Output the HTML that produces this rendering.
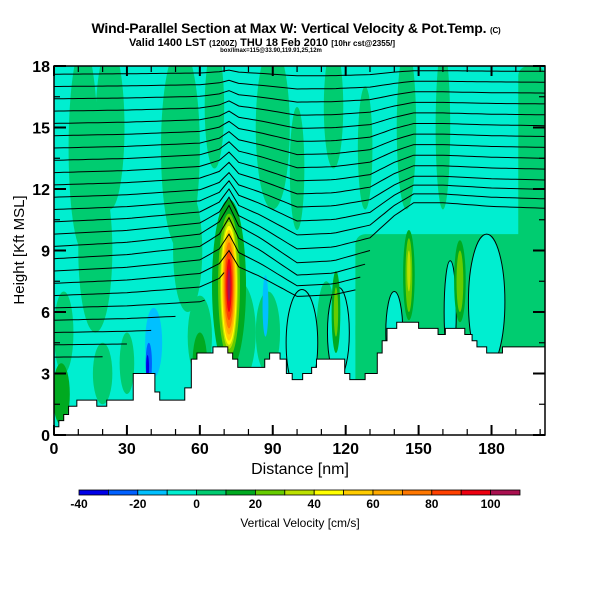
<!DOCTYPE html>
<html><head><meta charset="utf-8"><style>
body{margin:0;background:#fff;}
svg text{font-family:"Liberation Sans",Arial,sans-serif;}
</style></head><body>
<svg id="chart" width="600" height="600" viewBox="0 0 600 600" xmlns="http://www.w3.org/2000/svg">
<rect width="600" height="600" fill="#fff"/>
<text x="296" y="33" text-anchor="middle" font-size="14" font-weight="bold" letter-spacing="-0.2">Wind-Parallel Section at Max W: Vertical Velocity &amp; Pot.Temp. <tspan font-size="8">(C)</tspan></text>
<text x="262" y="46" text-anchor="middle" font-size="11" font-weight="bold">Valid 1400 LST <tspan font-size="8">(1200Z)</tspan> THU 18 Feb 2010 <tspan font-size="8">[10hr cst@2355/]</tspan></text>
<text x="271" y="52" text-anchor="middle" font-size="6" font-weight="bold">box/lmax=115@33.90,119.91,25,12m</text>
<defs><clipPath id="plotclip"><rect x="54" y="66" width="491" height="369"/></clipPath></defs>
<g id="plot" clip-path="url(#plotclip)"></g>
<g id="axes"></g>
<g id="cbar"></g>
<text x="300" y="474" text-anchor="middle" font-size="16">Distance [nm]</text>
<text transform="translate(24,250) rotate(-90)" text-anchor="middle" font-size="15">Height [Kft MSL]</text>
<text x="300" y="527" text-anchor="middle" font-size="12">Vertical Velocity [cm/s]</text>
</svg>
<script>
const colorLevels=[-40,-30,-20,-10,0,10,20,30,40,50,60,70,80,90,100,110];
const colorList=["#0000e8","#0060ff","#00c0ff","#00eed0","#00cc70","#00aa20","#66cc00","#bbe000","#ffff00","#ffcc00","#ffaa00","#ff7700","#ff4000","#ee0010","#aa1050"];
// rectangular regions: x0,x1 (nm), y0,y1 (kft), w
const rectX0=[124,191];
const rectX1=[202,202];
const rectY0=[0,0];
const rectY1=[9.8,18];
const rectW=[5,5];
// blobs: cx(nm), cy(kft), rx(nm), ry(kft), w(cm/s)
const blobX=[12,23,17,4,52,55,66,90,115,145,160,20,30,60,76,88,112,128,178,163,140,117,102,41,39,38.5,87,146,146,146,167,167,116,116,3,72,72,72,72,72,72,72,72,72,72,60,100,128];
const blobY=[14,15,9,5,14,9,16,15,16,15,15,3,3.5,4.8,5,5,5,5,6.5,6,5,5,4.5,4.5,3.5,3.3,6.3,7.8,7.8,8,7.5,7.5,6,6,2,7.3,7.3,7.3,7.3,7.3,7.3,7.3,7.3,7.3,7.3,3.5,13,14];
const blobRX=[6,6,7,4,8,6,4,7,4,4,3,4,3,5,7,5,4,4,7.5,2.5,3.5,4.5,6.5,3.5,1.3,0.6,1.2,2.4,1.4,0.7,2.4,1.4,1.8,0.9,3.5,7,4.5,3.6,3.2,2.8,2.4,2,1.6,1.1,0.6,3,3,3];
const blobRY=[5,4,4,2,5,3,3,4,3,4,4,1.5,1.5,2,2.5,2,2.5,3,3.3,2.5,2,2.2,2.6,1.7,1,0.6,1.5,2.2,1.8,1,2,1.5,2,1.2,1.5,4.2,3.5,3.1,2.9,2.7,2.4,2.1,1.7,1.3,0.8,1.5,3,3];
const blobW=[5,5,5,5,5,5,5,5,5,5,5,5,5,5,5,5,5,5,-5,-5,-5,-5,-5,-15,-25,-35,-15,15,25,35,15,25,15,25,15,15,25,35,45,55,65,75,85,95,105,15,5,5];
// terrain step function: start nm, height kft
const terrX=[0,2,4,6,9.4,17.6,21.7,32.6,41.5,43.5,53.8,56.5,58.8,65.4,71.5,73.5,75.6,86.7,88.7,93,95.6,98,102.3,106,108,119.6,121.7,128,133,135,137,141,150,158,161,169,172,174,178,184.5];
const terrH=[0.4,0.7,1.0,1.4,1.7,1.4,1.7,3.0,2.1,1.7,2.3,3.7,4.0,4.3,4.0,3.7,3.3,3.7,4.0,3.7,3.0,2.7,3.0,3.3,3.7,3.0,2.7,3.0,4.0,4.6,5.2,5.5,5.2,4.9,5.2,4.9,4.6,4.3,4.0,4.3];
// isentropes
const isoLevels=[17.6,17.0,16.4,15.8,15.2,14.6,14.0,13.4,12.8,12.2,11.6,11.0,10.4,9.8,9.2,8.6,8.0,7.4,6.8,6.2,5.6,5.0,4.4,3.8];
const isoWeight=[0.1,0.15,0.2,0.25,0.3,0.35,0.4,0.45,0.5,0.55,0.6,0.7,0.8,0.9,1.0,1.0,0.9,0.8,0.7,0.5,0.4,0.3,0.2,0.1];
const isoEnd=[202,202,202,202,202,202,202,202,202,202,202,202,202,202,130,128,126,124,70,62,50,40,30,20];
const profX=[0,15,30,45,60,68,72,76,85,100,115,130,140,148,160,180,202];
const profD=[0,0.1,0.2,0.4,0.6,1.2,2.0,1.0,0.4,-0.8,-0.7,-0.2,1.0,1.7,1.7,1.5,1.4];
const xTicks=[0,30,60,90,120,150,180];
const yTicks=[0,3,6,9,12,15,18];
const cbTicks=[-40,-20,0,20,40,60,80,100];

const NS="http://www.w3.org/2000/svg";
const X0=54,X1=545,Y0=435,Y1=66,XMAX=202,YMAX=18;
function sx(v){return X0+v/XMAX*(X1-X0);}
function sy(v){return Y0-v/YMAX*(Y0-Y1);}
function colorFor(w){for(let i=0;i<colorList.length;i++){if(w<colorLevels[i+1])return colorList[i];}return colorList[colorList.length-1];}
function mk(tag,attrs,parent){const e=document.createElementNS(NS,tag);for(const k in attrs)e.setAttribute(k,attrs[k]);parent.appendChild(e);return e;}
const plot=document.getElementById('plot');
const bg=mk('rect',{x:X0,y:Y1,width:X1-X0,height:Y0-Y1,fill:colorFor(-5)},plot);


for(let i=0;i<rectX0.length;i++){
  const r=mk('rect',{x:sx(rectX0[i]),y:sy(rectY1[i]),width:sx(rectX1[i])-sx(rectX0[i]),height:sy(rectY0[i])-sy(rectY1[i]),rx:10,fill:colorFor(rectW[i])},plot);
  
  
}
for(let i=0;i<blobX.length;i++){
  const outline=(blobW[i]===-5&&blobX[i]>95);
  const e=mk('ellipse',{cx:sx(blobX[i]),cy:sy(blobY[i]),rx:sx(blobRX[i])-X0,ry:Y0-sy(blobRY[i]),fill:colorFor(blobW[i]),stroke:outline?'#000':'none','stroke-width':1},plot);
  
  
}
function interp(x){for(let i=0;i<profX.length-1;i++){if(x<=profX[i+1]){const t=(x-profX[i])/(profX[i+1]-profX[i]);return profD[i]+t*(profD[i+1]-profD[i]);}}return profD[profD.length-1];}
for(let j=0;j<isoLevels.length;j++){
  let pts=[];
  for(let x=0;x<=isoEnd[j];x+=2){pts.push(sx(x).toFixed(1)+','+sy(isoLevels[j]+interp(x)*isoWeight[j]).toFixed(1));}
  const l=mk('polyline',{points:pts.join(' '),fill:'none',stroke:'#000','stroke-width':1},plot);
  
  
}
let tp=[sx(0)+','+sy(0)];
for(let i=0;i<terrX.length;i++){const xe=i<terrX.length-1?terrX[i+1]:XMAX;tp.push(sx(terrX[i])+','+sy(terrH[i]));tp.push(sx(xe)+','+sy(terrH[i]));}
tp.push(sx(XMAX)+','+sy(0));
const terr=mk('polygon',{points:tp.join(' '),fill:'#fff',stroke:'#000','stroke-width':1},plot);



const axes=document.getElementById('axes');
const frame=mk('rect',{x:X0,y:Y1,width:X1-X0,height:Y0-Y1,fill:'none',stroke:'#000','stroke-width':1.5},axes);


for(let v=0;v<=XMAX;v+=10){
  const big=v%30===0;const L=big?10:6;
  mk('line',{x1:sx(v),x2:sx(v),y1:Y0,y2:Y0-L,stroke:'#000','stroke-width':big?2:1.2},axes);
  mk('line',{x1:sx(v),x2:sx(v),y1:Y1,y2:Y1+L,stroke:'#000','stroke-width':big?2:1.2},axes);
}
for(let v=0;v<=YMAX;v+=1.5){
  const big=v%3===0;const L=big?12:6;
  mk('line',{x1:X0,x2:X0+L,y1:sy(v),y2:sy(v),stroke:'#000','stroke-width':big?2:1.2},axes);
  mk('line',{x1:X1,x2:X1-L,y1:sy(v),y2:sy(v),stroke:'#000','stroke-width':big?2:1.2},axes);
}
xTicks.forEach(v=>{const t=mk('text',{x:sx(v),y:Y0+19,'text-anchor':'middle','font-size':16,'font-weight':'bold'},axes);t.textContent=v;
  
  });
yTicks.forEach(v=>{const t=mk('text',{x:X0-4,y:sy(v)+6,'text-anchor':'end','font-size':16,'font-weight':'bold'},axes);t.textContent=v;
  
  });

const cb=document.getElementById('cbar');
const CB0=79,CB1=520,CBY=490,CBH=5;
function cx(v){return CB0+(v-colorLevels[0])/(colorLevels[colorLevels.length-1]-colorLevels[0])*(CB1-CB0);}
for(let i=0;i<colorList.length;i++){
  const r=mk('rect',{x:cx(colorLevels[i]),y:CBY,width:cx(colorLevels[i+1])-cx(colorLevels[i]),height:CBH,fill:colorList[i],stroke:'#000','stroke-width':0.8},cb);
  
  
}
cbTicks.forEach(v=>{const t=mk('text',{x:cx(v),y:508,'text-anchor':'middle','font-size':12,'font-weight':'bold'},cb);t.textContent=v;
  
  });
</script>
</body></html>
